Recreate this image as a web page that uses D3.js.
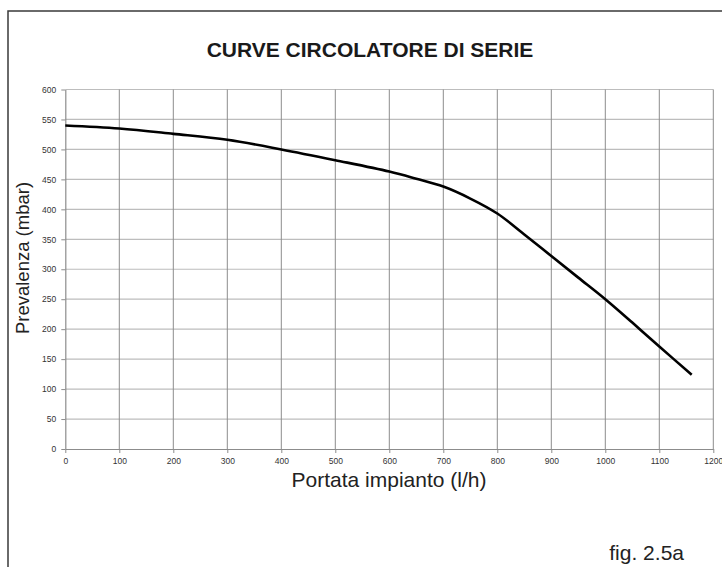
<!DOCTYPE html>
<html>
<head>
<meta charset="utf-8">
<script src="https://cdn.jsdelivr.net/npm/d3@7"></script>
<style>
  body { margin: 0; background: #fff; }
  svg { display: block; }
</style>
</head>
<body>
<div id="chart"></div>
<script>
// curve data
const portata = [0, 100, 200, 300, 400, 500, 600, 650, 700, 750, 800, 850, 900, 950, 1000, 1050, 1100, 1160];
const prevalenza = [540, 535, 526, 516, 500, 482, 463, 451, 438, 418, 393, 358, 322, 286, 250, 211, 171, 124];
const xTicks = [0, 100, 200, 300, 400, 500, 600, 700, 800, 900, 1000, 1100, 1200];
const yTicks = [0, 50, 100, 150, 200, 250, 300, 350, 400, 450, 500, 550, 600];

const width = 722, height = 567;
const margin = {left: 65.3, right: 8.7, top: 89.5, bottom: 118};

let svg = d3.select("#chart")
    .append("svg")
    .attr("width", width)
    .attr("height", height)
    .style("font-family", "'Liberation Sans', Arial, sans-serif");

// outer frame, runs off the right and bottom edge
svg.append("rect")
    .attr("x", 8)
    .attr("y", 11)
    .attr("width", 740)
    .attr("height", 600)
    .attr("fill", "none")
    .attr("stroke", "#3a3a3a")
    .attr("stroke-width", 1.5);

let x = d3.scaleLinear()
    .domain([0, 1200])
    .range([margin.left, width - margin.right]);

let y = d3.scaleLinear()
    .domain([0, 600])
    .range([height - margin.bottom, margin.top]);

// horizontal grid (lighter)
svg.append("g")
    .selectAll("line")
    .data(yTicks.slice(1))
    .enter()
    .append("line")
    .attr("x1", x(0))
    .attr("x2", x(1200))
    .attr("y1", d => y(d))
    .attr("y2", d => y(d))
    .attr("stroke", "#bdbdbd")
    .attr("stroke-width", 1.2);

// vertical grid (darker)
svg.append("g")
    .selectAll("line")
    .data(xTicks.slice(1))
    .enter()
    .append("line")
    .attr("x1", d => x(d))
    .attr("x2", d => x(d))
    .attr("y1", y(0))
    .attr("y2", y(600))
    .attr("stroke", "#8c8c8c")
    .attr("stroke-width", 1);

// axes
let xAxis = svg.append("g")
    .attr("transform", `translate(0, ${y(0)})`)
    .call(d3.axisBottom(x).tickValues(xTicks).tickFormat(d3.format("d"))
        .tickSize(4).tickPadding(5).tickSizeOuter(0));

let yAxis = svg.append("g")
    .attr("transform", `translate(${x(0)}, 0)`)
    .call(d3.axisLeft(y).tickValues(yTicks).tickFormat(d3.format("d"))
        .tickSize(4).tickPadding(5).tickSizeOuter(0));

[xAxis, yAxis].forEach(function(a) {
    a.select(".domain").attr("stroke", "#8c8c8c").attr("stroke-width", 1.2);
    a.selectAll(".tick line").attr("stroke", "#8c8c8c");
    a.selectAll("text")
        .attr("fill", "#333")
        .style("font-size", "8.5px")
        .style("font-family", "'Liberation Sans', Arial, sans-serif");
});

// the pump curve
let line = d3.line()
    .x(function(d, i) { return x(portata[i]); })
    .y(function(d) { return y(d); })
    .curve(d3.curveCatmullRom.alpha(0.5));

svg.append("path")
    .datum(prevalenza)
    .attr("d", line)
    .attr("fill", "none")
    .attr("stroke", "#000")
    .attr("stroke-width", 2.6)
    .attr("stroke-linejoin", "round");

// texts
svg.append("text")
    .attr("x", 370)
    .attr("y", 56.5)
    .style("text-anchor", "middle")
    .style("font-size", "21px")
    .style("font-weight", "bold")
    .attr("fill", "#1a1a1a")
    .text("CURVE CIRCOLATORE DI SERIE");

svg.append("text")
    .attr("x", 389)
    .attr("y", 487)
    .style("text-anchor", "middle")
    .style("font-size", "21px")
    .attr("fill", "#222")
    .text("Portata impianto (l/h)");

svg.append("text")
    .attr("transform", `translate(29, 258) rotate(-90)`)
    .style("text-anchor", "middle")
    .style("font-size", "18.5px")
    .attr("fill", "#222")
    .text("Prevalenza (mbar)");

svg.append("text")
    .attr("x", 684)
    .attr("y", 560)
    .style("text-anchor", "end")
    .style("font-size", "21px")
    .attr("fill", "#222")
    .text("fig. 2.5a");
</script>
</body>
</html>
